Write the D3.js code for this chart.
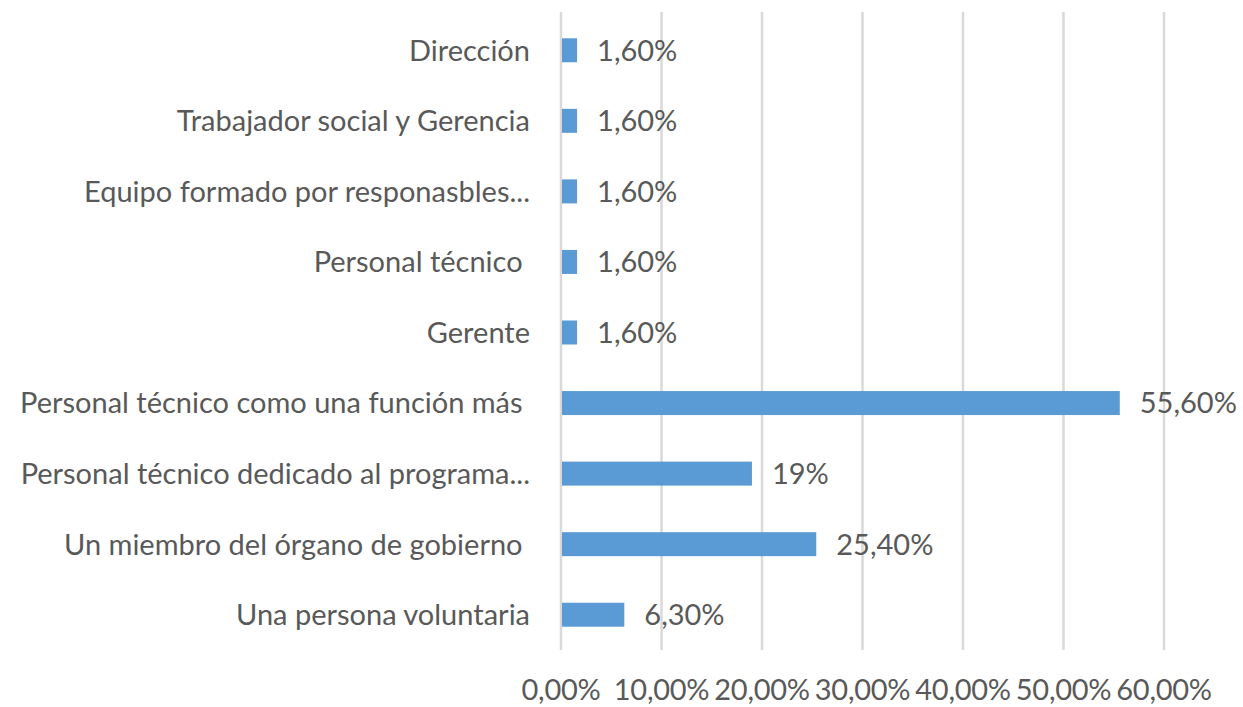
<!DOCTYPE html>
<html>
<head>
<meta charset="utf-8">
<script src="https://cdn.jsdelivr.net/npm/d3@7"></script>
<style>
  body { margin: 0; background: #fff; }
  text { font-family: Lato, "Open Sans", sans-serif; fill: #595959; white-space: pre; }
</style>
</head>
<body>
<svg id="chart"></svg>
<script>
// categories top to bottom as they appear (some keep the trailing space of the source)
let categories = [
    "Dirección",
    "Trabajador social y Gerencia",
    "Equipo formado por responasbles...",
    "Personal técnico ",
    "Gerente",
    "Personal técnico como una función más ",
    "Personal técnico dedicado al programa...",
    "Un miembro del órgano de gobierno ",
    "Una persona voluntaria"
];
let values = [1.6, 1.6, 1.6, 1.6, 1.6, 55.6, 19, 25.4, 6.3];
let valueLabels = ["1,60%", "1,60%", "1,60%", "1,60%", "1,60%", "55,60%", "19%", "25,40%", "6,30%"];
let ticks = [0, 10, 20, 30, 40, 50, 60];
let tickLabels = ["0,00%", "10,00%", "20,00%", "30,00%", "40,00%", "50,00%", "60,00%"];

let svg = d3.select("#chart")
    .attr("width", 1243)
    .attr("height", 707);

let x = d3.scaleLinear()
    .domain([0, 60])
    .range([561, 1164]);

let y = d3.scaleBand()
    .domain(categories)
    .range([15, 650])
    .paddingInner(0.66)
    .paddingOuter(0.33);

// gridlines
ticks.forEach(t =>
    svg.append("line")
    .attr("x1", x(t))
    .attr("x2", x(t))
    .attr("y1", 12)
    .attr("y2", 650)
    .attr("stroke", "#d9d9d9")
    .attr("stroke-width", 2.5)
);

// tick labels
ticks.forEach((t, i) =>
    svg.append("text")
    .attr("x", x(t))
    .attr("y", 700)
    .attr("text-anchor", "middle")
    .style("font-size", "29px")
    .style("letter-spacing", "-0.3px")
    .text(tickLabels[i])
);

// bars
for (var i = 0; i < categories.length; i++) {
    svg.append("rect")
    .attr("x", x(0) + 1)
    .attr("y", y(categories[i]))
    .attr("width", x(values[i]) - x(0) - 1)
    .attr("height", y.bandwidth())
    .attr("fill", "#5b9bd5");

    //value label
    svg.append("text")
    .attr("x", x(values[i]) + 20)
    .attr("y", y(categories[i]) + y.bandwidth() / 2)
    .attr("dy", "0.36em")
    .style("font-size", "29px")
    .text(valueLabels[i]);

    //category label
    svg.append("text")
    .attr("x", 530)
    .attr("y", y(categories[i]) + y.bandwidth() / 2)
    .attr("dy", "0.36em")
    .attr("text-anchor", "end")
    .style("font-size", "29px")
    .text(categories[i]);
}
</script>
</body>
</html>
